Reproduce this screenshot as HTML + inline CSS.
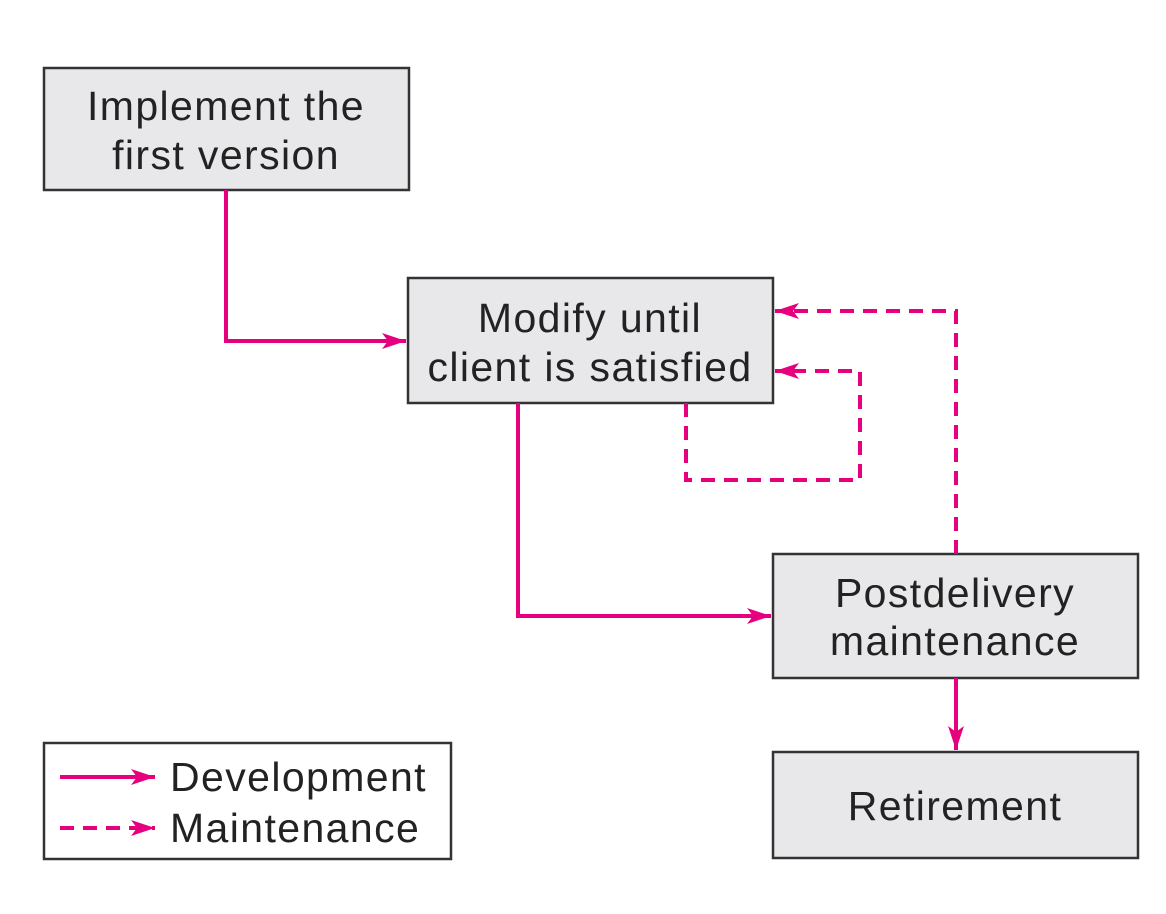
<!DOCTYPE html>
<html><head><meta charset="utf-8"><style>
html,body{margin:0;padding:0;background:#fff;}
svg{display:block}
text{font-family:"Liberation Sans",sans-serif;font-size:41px;letter-spacing:1.4px;fill:#222;text-anchor:middle}
</style></head><body>
<svg width="1166" height="914" viewBox="0 0 1166 914" xmlns="http://www.w3.org/2000/svg">
<defs>
<marker id="a" viewBox="0 0 24 16" refX="24" refY="8" markerWidth="24" markerHeight="16" markerUnits="userSpaceOnUse" orient="auto">
<path d="M0,0 L24,8 L0,16 L6,8 z" fill="#e6007e"/>
</marker>
</defs>
<g fill="#e8e8ea" stroke="#333" stroke-width="2.5">
<rect x="44" y="68" width="365" height="122"/>
<rect x="408" y="278" width="365" height="125"/>
<rect x="773" y="554" width="365" height="124"/>
<rect x="773" y="752" width="365" height="106"/>
<rect x="44" y="743" width="407" height="116" fill="#fff"/>
</g>
<g fill="none" stroke="#e6007e" stroke-width="4">
<path d="M226,190 V341 H406" marker-end="url(#a)"/>
<path d="M518,403 V616 H771" marker-end="url(#a)"/>
<path d="M956,678 V750" marker-end="url(#a)"/>
<path d="M60,777 H155" marker-end="url(#a)"/>
<g stroke-dasharray="14,9">
<path d="M956,554 V311 H775" marker-end="url(#a)"/>
<path d="M686,403 V480 H860 V371 H775" marker-end="url(#a)"/>
<path d="M60,828 H155" marker-end="url(#a)"/>
</g>
</g>
<text x="226" y="120">Implement the</text>
<text x="226" y="169">first version</text>
<text x="590" y="332">Modify until</text>
<text x="590" y="381">client is satisfied</text>
<text x="955" y="607">Postdelivery</text>
<text x="955" y="655">maintenance</text>
<text x="955" y="820">Retirement</text>
<text x="170" y="791" style="text-anchor:start">Development</text>
<text x="170" y="842" style="text-anchor:start">Maintenance</text>
</svg>
</body></html>
